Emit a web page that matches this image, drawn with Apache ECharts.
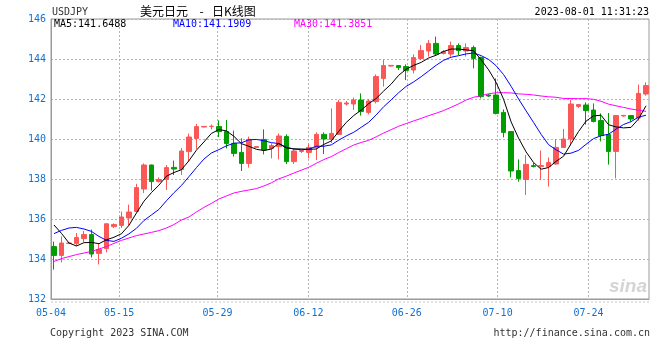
<!DOCTYPE html>
<html><head><meta charset="utf-8">
<script src="https://cdn.jsdelivr.net/npm/echarts@6/dist/echarts.min.js"></script>
<style>html,body{margin:0;padding:0;background:#fff}#c{width:660px;height:360px}</style>
</head><body><div id="c"></div>
<script>
// ---- data ----
const dates = [
 '05-04','05-05','05-06',
 '05-08','05-09','05-10','05-11','05-12','05-13',
 '05-15','05-16','05-17','05-18','05-19','05-20',
 '05-22','05-23','05-24','05-25','05-26','05-27','05-28',
 '05-29','05-30','05-31','06-01','06-02','06-03',
 '06-05','06-06','06-07','06-08','06-09','06-10',
 '06-12','06-13','06-14','06-15','06-16','06-17',
 '06-19','06-20','06-21','06-22','06-23','06-24','06-25',
 '06-26','06-27','06-28','06-29','06-30','07-01',
 '07-03','07-04','07-05','07-06','07-07','07-08',
 '07-10','07-11','07-12','07-13','07-14','07-15',
 '07-17','07-18','07-19','07-20','07-21','07-22',
 '07-24','07-25','07-26','07-27','07-28','07-29',
 '07-30','07-31','08-01'];
const opens = [
 134.62,134.18,134.78,134.77,135.02,135.22,134.28,134.52,135.62,135.68,
 136.05,136.38,137.50,138.70,137.88,137.98,138.58,138.48,139.37,140.03,
 140.60,140.62,140.62,140.37,139.78,139.33,138.78,139.58,139.98,139.53,
 139.62,140.12,138.87,139.38,139.33,139.58,140.23,139.98,140.23,141.75,
 141.75,141.95,141.33,141.87,143.03,143.65,143.67,143.62,143.45,144.03,
 144.40,144.78,144.28,144.25,144.67,144.40,144.57,144.07,142.20,142.20,
 141.33,140.37,138.42,137.98,138.67,138.63,138.62,138.75,139.58,140.00,
 141.63,141.70,141.45,140.92,140.22,139.38,141.15,141.17,141.05,142.25];
const closes = [
 134.18,134.80,134.80,135.08,135.22,134.25,134.48,135.76,135.72,136.10,
 136.35,137.57,138.70,137.87,137.97,138.57,138.50,139.40,140.10,140.62,
 140.63,140.64,140.37,139.77,139.28,138.78,139.98,139.62,139.45,139.67,
 140.15,138.87,139.40,139.42,139.58,140.23,140.00,140.28,141.83,141.80,
 141.95,141.37,141.90,143.12,143.67,143.68,143.57,143.42,144.07,144.42,
 144.78,144.25,144.37,144.67,144.42,144.57,144.03,142.12,142.15,141.28,
 140.33,138.40,138.03,138.73,138.62,138.67,138.82,139.58,140.00,141.75,
 141.72,141.42,140.88,140.17,139.38,141.17,141.18,141.00,142.28,142.67];
const lows = [
 133.47,133.83,134.76,134.65,134.85,134.08,133.73,134.33,135.55,135.55,
 135.65,136.35,137.30,137.42,137.82,137.45,138.20,138.20,138.90,139.50,
 140.58,140.48,140.10,139.53,139.12,138.40,138.57,139.55,139.23,139.03,
 138.98,138.75,138.75,139.30,139.03,138.95,139.25,139.80,140.20,141.67,
 141.45,141.17,141.23,141.78,142.62,143.62,143.45,142.95,143.28,143.95,
 144.12,144.20,144.23,144.12,144.20,144.12,143.53,142.03,142.10,141.23,
 140.08,138.08,137.87,137.20,138.58,137.95,137.62,138.72,139.55,139.67,
 141.55,140.72,140.83,139.88,138.72,138.03,141.12,140.88,140.92,142.17];
const highs = [
 134.87,135.13,134.83,135.30,135.40,135.47,134.75,135.78,135.78,136.37,
 136.72,137.76,138.78,138.72,138.08,138.70,138.92,139.55,140.27,140.75,
 140.65,140.73,140.93,140.95,140.42,140.03,140.12,139.65,140.48,139.78,
 140.28,140.23,139.50,139.45,139.78,140.33,140.33,141.53,141.95,141.90,
 142.07,142.28,142.00,143.23,143.95,143.70,143.70,143.73,144.23,144.70,
 144.95,145.12,144.45,144.87,144.78,144.78,144.67,144.12,142.25,143.03,
 141.48,140.40,138.98,139.20,138.80,139.42,139.08,140.00,140.50,141.95,
 141.75,141.83,141.78,141.28,141.30,141.20,141.20,141.20,142.72,142.83];
// moving-average values before a full window exists
const ma5Lead  = [135.70,135.28,134.80,134.65];
const ma10Lead = [135.27,135.43,135.55,135.58,135.50,135.38,135.13,134.93,134.88];
const ma30Lead = [133.88,134.02,134.12,134.22,134.30,134.38,134.50,134.62,134.78,134.93,
                  135.05,135.17,135.25,135.33,135.42,135.55,135.72,135.95,136.10,136.35,
                  136.58,136.78,137.00,137.15,137.30,137.38,137.45,137.52,137.65];
const xTickLabels = ['05-04','05-15','05-29','06-12','06-26','07-10','07-24'];
const maLabels = ['MA5:141.6488','MA10:141.1909','MA30:141.3851'];
const symbolName = 'USDJPY';
const titleParts = ['美元日元','-','日K线图'];
const timeText = '2023-08-01 11:31:23';

// ---- build ----
function movingAvg(n, lead){
  return closes.map((c,i)=>{
    if(i < n-1) return lead[i];
    let s=0; for(let k=i-n+1;k<=i;k++) s+=closes[k];
    return +(s/n).toFixed(4);
  });
}
const ma5 = movingAvg(5, ma5Lead), ma10 = movingAvg(10, ma10Lead), ma30 = movingAvg(30, ma30Lead);
const kdata = dates.map((d,i)=>[opens[i], closes[i], lows[i], highs[i]]);

const FONT = '"DejaVu Sans Mono", monospace';
const CJK = '"Noto Sans CJK SC"';
const BLUE = '#1071d0';
const RED = '#fa5757', GREEN = '#009c00';
const GRIDC = '#b4b4b4';

const chart = echarts.init(document.getElementById('c'), null, {renderer:'canvas'});
chart.setOption({
  animation:false,
  backgroundColor:'#fff',
  grid:[
    {left:51, right:11, top:19, bottom:61, show:true, borderColor:'#9a9a9a', borderWidth:1, backgroundColor:'transparent'},
    {left:54, right:14, top:19, bottom:61}
  ],
  xAxis:[
    {type:'category', gridIndex:0, data:dates, boundaryGap:false,
     axisLine:{show:true, lineStyle:{color:'#9a9a9a'}}, axisTick:{show:false},
     axisLabel:{interval:(i,v)=>xTickLabels.includes(v), color:BLUE, fontFamily:FONT, fontSize:10, margin:9},
     splitLine:{show:true, interval:(i,v)=>xTickLabels.includes(v), lineStyle:{color:GRIDC, type:[2,2], width:1}}},
    {type:'category', gridIndex:1, data:dates, boundaryGap:false, show:false}
  ],
  yAxis:[
    {type:'value', gridIndex:0, min:132, max:146, interval:2,
     axisLine:{show:true, lineStyle:{color:'#9a9a9a'}}, axisTick:{show:false},
     axisLabel:{color:BLUE, fontFamily:FONT, fontSize:10, margin:5},
     splitLine:{show:true, lineStyle:{color:GRIDC, type:[2,2], width:1}}},
    {type:'value', gridIndex:1, min:132, max:146, show:false, splitLine:{show:false}}
  ],
  series:[
    {type:'candlestick', xAxisIndex:1, yAxisIndex:1, data:kdata, barWidth:5, clip:false, silent:true,
     itemStyle:{color:RED, color0:GREEN, borderColor:RED, borderColor0:GREEN, borderWidth:1}},
    {type:'line', xAxisIndex:1, yAxisIndex:1, data:ma30, showSymbol:false, silent:true,
     lineStyle:{color:'#ff00ff', width:1}},
    {type:'line', xAxisIndex:1, yAxisIndex:1, data:ma10, showSymbol:false, silent:true,
     lineStyle:{color:'#0000ff', width:1}},
    {type:'line', xAxisIndex:1, yAxisIndex:1, data:ma5, showSymbol:false, silent:true,
     lineStyle:{color:'#000000', width:1}}
  ],
  graphic:[
    {type:'text', x:52, y:12, z:10, style:{text:symbolName, fill:'#333', font:'10px '+FONT, textAlign:'left', textVerticalAlign:'middle'}},
    {type:'text', x:140, y:11, z:10, style:{text:titleParts[0], fill:'#000', font:'12px '+CJK, textAlign:'left', textVerticalAlign:'middle'}},
    {type:'text', x:201.5, y:11, z:10, style:{text:titleParts[1], fill:'#000', font:'12px '+CJK, textAlign:'center', textVerticalAlign:'middle'}},
    {type:'text', x:212, y:11, z:10, style:{text:titleParts[2], fill:'#000', font:'12px '+CJK, textAlign:'left', textVerticalAlign:'middle'}},
    {type:'text', x:649, y:12, z:10, style:{text:timeText, fill:'#000', font:'10px '+FONT, textAlign:'right', textVerticalAlign:'middle'}},
    {type:'text', x:54, y:24, z:10, style:{text:maLabels[0], fill:'#000', font:'10px '+FONT, textAlign:'left', textVerticalAlign:'middle'}},
    {type:'text', x:173, y:24, z:10, style:{text:maLabels[1], fill:'#0000ff', font:'10px '+FONT, textAlign:'left', textVerticalAlign:'middle'}},
    {type:'text', x:294, y:24, z:10, style:{text:maLabels[2], fill:'#ff00ff', font:'10px '+FONT, textAlign:'left', textVerticalAlign:'middle'}},
    {type:'text', x:50, y:333, z:10, style:{text:'Copyright 2023 SINA.COM', fill:'#333', font:'10px '+FONT, textAlign:'left', textVerticalAlign:'middle'}},
    {type:'text', x:650, y:333, z:10, style:{text:'http://finance.sina.com.cn', fill:'#333', font:'10px '+FONT, textAlign:'right', textVerticalAlign:'middle'}},
    {type:'line', z:1, shape:{x1:51, y1:302, x2:649, y2:302}, style:{stroke:'#c4c4c4', lineWidth:1, lineDash:[2,2]}},
    {type:'text', x:647, y:296, z:0, style:{text:'sina', fill:'#d4d4d4', font:'italic bold 19px "Liberation Sans"', textAlign:'right', textVerticalAlign:'bottom'}}
  ]
});
</script></body></html>
